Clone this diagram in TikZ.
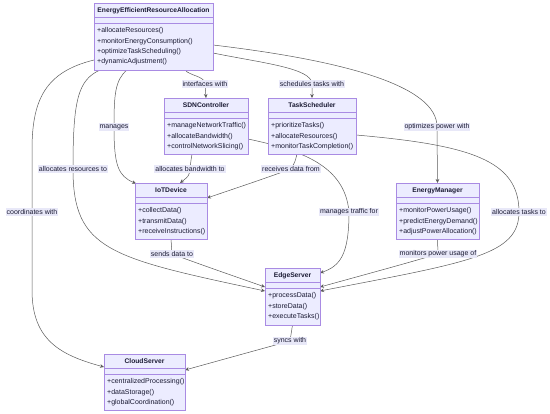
\documentclass[tikz,border=0pt]{standalone}
\usepackage{fontspec}
\setmainfont{Liberation Sans}
\usetikzlibrary{calc,arrows.meta}
\definecolor{boxfill}{HTML}{ECECFF}
\definecolor{boxline}{HTML}{A98BE3}
\definecolor{edgecol}{HTML}{5A5A5A}
\definecolor{lblfill}{HTML}{E8E8F8}
\definecolor{txt}{HTML}{1A1A33}
\pgfdeclarelayer{edges}
\pgfsetlayers{edges,main}
\newcommand{\umlclass}[7]{%
  \node[classbox, minimum width=#4pt, minimum height=#5pt, anchor=north west] (#1) at (#2,#3) {};
  \node[classtitle] (#1-title) at ($(#1.north)+(0,7.5)$) {#6};
  \draw[classline] ($(#1.north west)+(0,14)$) -- ($(#1.north east)+(0,14)$);
  \draw[classline] ($(#1.north west)+(0,20)$) -- ($(#1.north east)+(0,20)$);
  \node[classmeth, anchor=north west] (#1-methods) at ($(#1.north west)+(3,24.5)$) {#7};
}
\begin{document}
\begin{tikzpicture}[x=1pt,y=-1pt,
  classbox/.style={draw=boxline, fill=boxfill, line width=0.7pt, inner sep=0pt, outer sep=0pt, rectangle},
  classtitle/.style={font=\bfseries\fontsize{6.7}{8}\selectfont, text=txt, inner sep=0pt},
  classline/.style={draw=boxline, line width=0.6pt},
  classmeth/.style={font=\fontsize{7}{10.4}\selectfont, text=txt, align=left, inner sep=0pt},
  elabel/.style={fill=lblfill, font=\fontsize{7}{8}\selectfont, text=txt, inner sep=1pt},
  conn/.style={draw=edgecol, line width=0.5pt, -{Stealth[length=4pt,width=3.6pt]}}]
\useasboundingbox (0,0) rectangle (550,414);

\umlclass{eera}{94}{3}{119}{67}{EnergyEfficientResourceAllocation}{+allocateResources()\\+monitorEnergyConsumption()\\+optimizeTaskScheduling()\\+dynamicAdjustment()}
\umlclass{sdn}{164}{98}{84}{56}{SDNController}{+manageNetworkTraffic()\\+allocateBandwidth()\\+controlNetworkSlicing()}
\umlclass{ts}{268}{98}{88}{56}{TaskScheduler}{+prioritizeTasks()\\+allocateResources()\\+monitorTaskCompletion()}
\umlclass{iot}{135}{183}{72}{56}{IoTDevice}{+collectData()\\+transmitData()\\+receiveInstructions()}
\umlclass{em}{396}{183}{83}{56}{EnergyManager}{+monitorPowerUsage()\\+predictEnergyDemand()\\+adjustPowerAllocation()}
\umlclass{es}{265}{268}{55}{57}{EdgeServer}{+processData()\\+storeData()\\+executeTasks()}
\umlclass{cs}{104}{354}{81}{56}{CloudServer}{+centralizedProcessing()\\+dataStorage()\\+globalCoordination()}

\node[elabel] (l1) at (205,84) {interfaces with};
\node[elabel] (l2) at (312,84) {schedules tasks with};
\node[elabel] (l3) at (437,127) {optimizes power with};
\node[elabel] (l4) at (114,127) {manages};
\node[elabel] (l5) at (73,169) {allocates resources to};
\node[elabel] (l6) at (32,212) {coordinates with};
\node[elabel] (l7) at (190,169) {allocates bandwidth to};
\node[elabel] (l8) at (291,169) {receives data from};
\node[elabel] (l9) at (349,212) {manages traffic for};
\node[elabel] (l10) at (519,212) {allocates tasks to};
\node[elabel] (l11) at (438,254) {monitors power usage of};
\node[elabel] (l12) at (172,254) {sends data to};
\node[elabel] (l13) at (290,341) {syncs with};

\begin{pgfonlayer}{edges}
\draw[conn] ($(eera.south)+(31.5,0)$) .. controls (190,76) and (205,76) .. (l1.center) -- (sdn.north);
\draw[conn] ($(eera.east)+(0,16.5)$) .. controls (262,63) and (312,68) .. (l2.center) -- (ts.north);
\draw[conn] ($(eera.east)+(0,8.5)$) .. controls (340,60) and (437.5,85) .. (l3.center) -- (em.north);
\draw[conn] ($(eera.south)+(-26.5,0)$) .. controls (115,80) and (114,95) .. (l4.center) .. controls (114,165) and (118,176) .. ($(iot.north west)+(1,0.5)$);
\draw[conn] ($(eera.south)+(-53.5,0)$) .. controls (78,80) and (73,100) .. (l5.center) .. controls (73,250) and (110,258) .. ($(es.west)+(0,-5.5)$);
\draw[conn] ($(eera.west)+(0,23.5)$) .. controls (45,72) and (32,100) .. (32,150) -- (l6.center) -- (32,290) .. controls (32,340) and (60,355) .. ($(cs.west)+(0,-15)$);
\draw[conn] ($(sdn.south)+(-14,0)$) .. controls (191,160) .. (l7.center) .. controls (189,176) .. ($(iot.north)+(9,0)$);
\draw[conn] ($(ts.south)+(-15,0)$) .. controls (295,162) .. (l8.center) .. controls (260,180) .. ($(iot.east)+(0,-13)$);
\draw[conn] ($(sdn.east)+(0,13)$) .. controls (300,150) and (345,165) .. (l9.center) .. controls (349,255) and (340,266) .. ($(es.north east)+(0,5)$);
\draw[conn] ($(ts.east)+(0,9)$) .. controls (470,145) and (519,160) .. (l10.center) .. controls (519,255) and (470,262) .. ($(es.east)+(0,-5.5)$);
\draw[conn] (em.south) .. controls (437,247) .. (l11.center) .. controls (400,265) .. ($(es.east)+(0,-9.5)$);
\draw[conn] (iot.south) .. controls (172,247) .. (l12.center) .. controls (205,266) .. ($(es.west)+(0,-9.5)$);
\draw[conn] (es.south) .. controls (291,333) .. (l13.center) .. controls (250,352) .. ($(cs.east)+(0,-12)$);
\end{pgfonlayer}
\end{tikzpicture}
\end{document}
